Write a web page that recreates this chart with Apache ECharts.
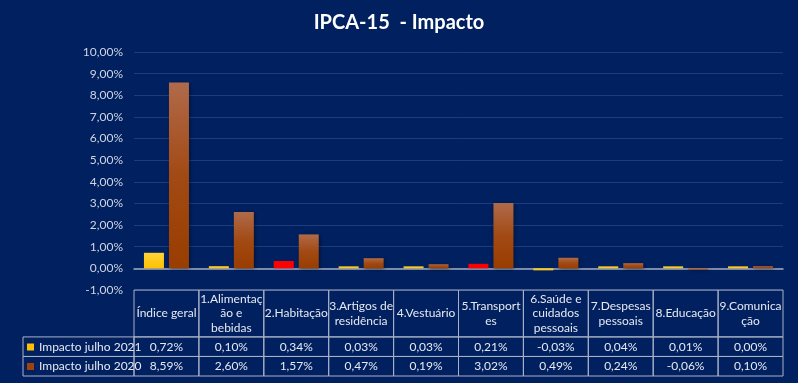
<!DOCTYPE html>
<html><head><meta charset="utf-8">
<script src="https://cdn.jsdelivr.net/npm/echarts@6/dist/echarts.min.js"></script>
<style>html,body{margin:0;padding:0;background:#002060;}#c{width:798px;height:383px;}</style>
</head><body><div id="c"></div>
<script>
// ---- data ----
const categories = ['Índice geral','1.Alimentação e bebidas','2.Habitação','3.Artigos de residência','4.Vestuário','5.Transportes','6.Saúde e cuidados pessoais','7.Despesas pessoais','8.Educação','9.Comunicação'];
const headerLabels = ['Índice geral','1.Alimentaç\não e\nbebidas','2.Habitação','3.Artigos de\nresidência','4.Vestuário','5.Transport\nes','6.Saúde e\ncuidados\npessoais','7.Despesas\npessoais','8.Educação','9.Comunica\nção'];
const seriesNames = ['Impacto julho 2021','Impacto julho 2020'];
const impacto2021 = [0.72,0.10,0.34,0.03,0.03,0.21,-0.03,0.04,0.01,0.00];
const impacto2020 = [8.59,2.60,1.57,0.47,0.19,3.02,0.49,0.24,-0.06,0.10];
const yMin = -1, yMax = 10, yStep = 1;

// ---- style ----
const FONT = 'Lato';
const BG = '#002060';
const TXT = '#e6e9f0';
const BORDER = '#a9b1c6';
const RED_IDX = [2,5];
const rowUnits = [2.4,1,1];
const LEGEND_LEFT = 23;
const yellowGrad = {type:'linear',x:0,y:0,x2:0,y2:1,colorStops:[{offset:0,color:'#FFD43A'},{offset:1,color:'#FFC000'}]};
const brownGrad = {type:'linear',x:0,y:0,x2:0,y2:1,colorStops:[{offset:0,color:'#B06A4A'},{offset:0.5,color:'#A24A14'},{offset:1,color:'#993D00'}]};
const fmt = v => v.toFixed(2).replace('.',',') + '%';

const rowStart = [0];
for (let i=0;i<rowUnits.length;i++) rowStart.push(rowStart[i]+rowUnits[i]);
const rowsText = [headerLabels, impacto2021.map(fmt), impacto2020.map(fmt)];
const tableData = [];
for (let r=0;r<3;r++) for (let c=0;c<categories.length;c++) tableData.push([c, r]);

const chart = echarts.init(document.getElementById('c'), null, {renderer:'canvas'});
chart.setOption({
  backgroundColor: BG,
  animation: false,
  textStyle: {fontFamily: FONT},
  title: {text: 'IPCA-15  - Impacto', left: 'center', top: 8,
    textStyle: {color: '#ffffff', fontSize: 20, fontWeight: 'bold', fontFamily: FONT}},
  legend: {
    orient: 'vertical', left: 27, top: 340, padding: 0, itemWidth: 7, itemHeight: 7, itemGap: 5.5,
    icon: 'rect', selectedMode: false,
    textStyle: {color: TXT, fontSize: 12, lineHeight: 14, fontFamily: FONT},
    data: [{name: seriesNames[0], itemStyle:{color:'#FFC000'}}, {name: seriesNames[1], itemStyle:{color:'#A0420A'}}]
  },
  grid: [
    {left: 134, right: 15, top: 52, bottom: 93},
    {left: 134, right: 15, top: 290, bottom: 7}
  ],
  xAxis: [
    {type:'category', gridIndex:0, data: categories,
      axisLine:{show:true, onZero:true, lineStyle:{color:'#a3abbf', width:1.5}},
      axisTick:{show:false}, axisLabel:{show:false}, splitLine:{show:false}},
    {type:'category', gridIndex:1, data: categories, show:false}
  ],
  yAxis: [
    {type:'value', gridIndex:0, min:yMin, max:yMax, interval:yStep,
      axisLine:{show:false}, axisTick:{show:false},
      axisLabel:{color:'#cfd5e3', fontSize:12, margin:11, fontFamily: FONT, formatter: fmt},
      splitLine:{lineStyle:{color:'#1e3b7a', width:1}}},
    {type:'value', gridIndex:1, min:0, max:rowStart[rowStart.length-1], inverse:true, show:false}
  ],
  series: [
    {name: seriesNames[0], type:'bar', xAxisIndex:0, yAxisIndex:0, barWidth:20, barGap:'25%', barMinHeight:2,
      itemStyle:{color: yellowGrad},
      data: impacto2021.map((v,i) => RED_IDX.includes(i) ? {value:v, itemStyle:{color:'#FF0000'}} : v)},
    {name: seriesNames[1], type:'bar', xAxisIndex:0, yAxisIndex:0, barWidth:20, barGap:'25%',
      itemStyle:{color: brownGrad, shadowColor:'rgba(0,0,0,0.45)', shadowBlur:4, shadowOffsetX:1, shadowOffsetY:1},
      data: impacto2020},
    {type:'custom', xAxisIndex:1, yAxisIndex:1, silent:true, clip:false, data: tableData,
      renderItem: function(params, api){
        const c = api.value(0), r = api.value(1);
        const bw = api.size([1,0])[0];
        const cx = api.coord([c, 0])[0];
        const y0 = api.coord([c, rowStart[r]])[1];
        const y1 = api.coord([c, rowStart[r+1]])[1];
        const x0 = cx - bw/2;
        const children = [
          {type:'rect', shape:{x:x0, y:y0, width:bw, height:y1-y0}, style:{fill:'none', stroke:BORDER, lineWidth:1}},
          {type:'text', x:cx, y:(y0+y1)/2, style:{text: rowsText[r][c], fill:TXT, font:'12px ' + FONT,
            align:'center', verticalAlign:'middle', lineHeight:14.5}}
        ];
        if (c === 0 && r > 0) {
          children.push({type:'rect', shape:{x:LEGEND_LEFT, y:y0, width:x0-LEGEND_LEFT, height:y1-y0}, style:{fill:'none', stroke:BORDER, lineWidth:1}});
        }
        return {type:'group', children: children};
      }}
  ]
});
</script></body></html>
